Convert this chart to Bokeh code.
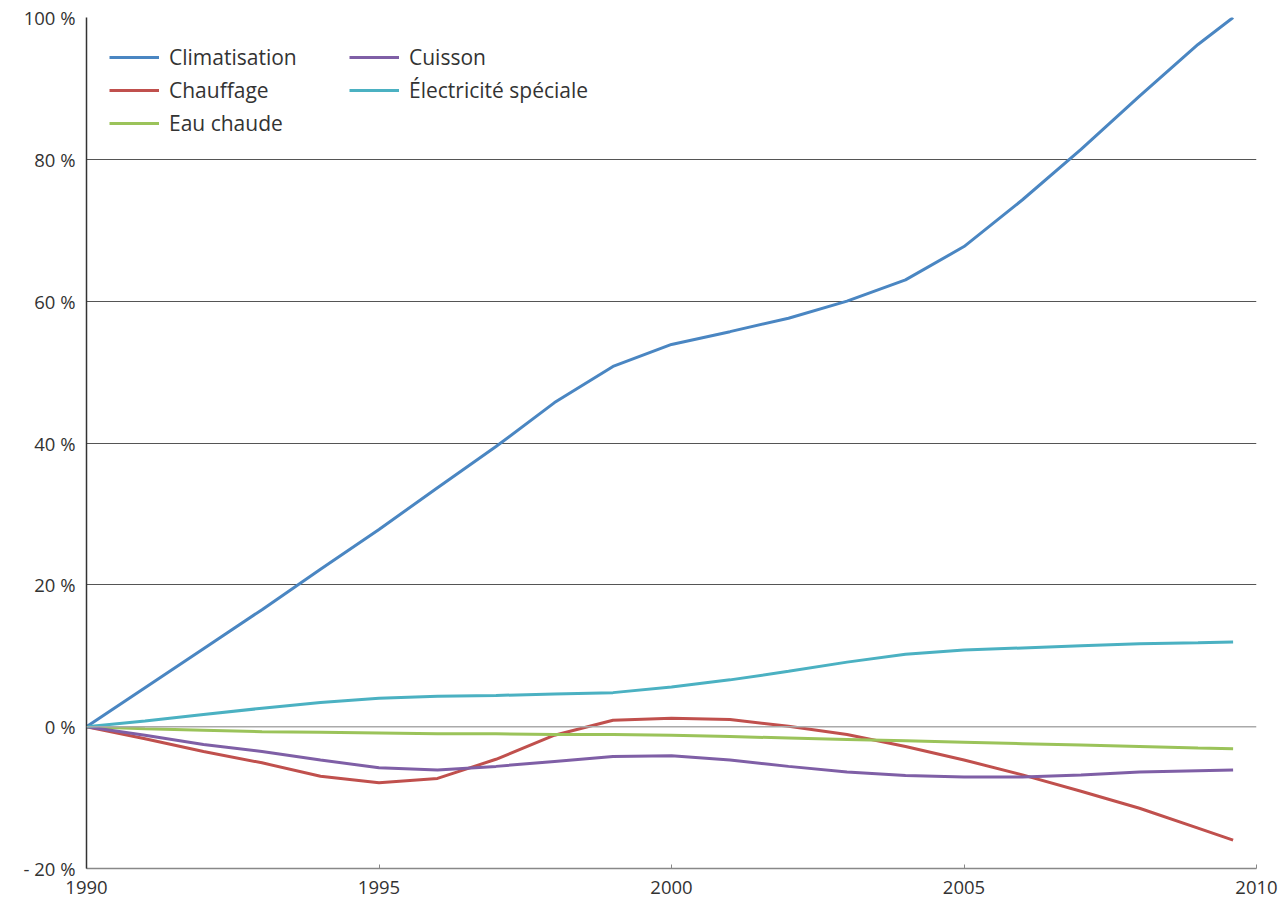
from bokeh.plotting import figure
from bokeh.models import Range1d, FixedTicker, Legend, LegendItem, Span, CustomJSTickFormatter
from bokeh.embed import file_html
from bokeh.resources import INLINE

years = [1990, 1991, 1992, 1993, 1994, 1995, 1996, 1997, 1998, 1999, 2000,
         2001, 2002, 2003, 2004, 2005, 2006, 2007, 2008, 2009, 2009.6]

climatisation = [0, 5.5, 11.0, 16.5, 22.2, 27.8, 33.7, 39.5, 45.7, 50.8, 53.9,
                 55.7, 57.6, 60.0, 63.0, 67.7, 74.3, 81.4, 88.9, 96.2, 100.0]
chauffage = [0, -1.7, -3.5, -5.1, -7.0, -7.9, -7.3, -4.6, -1.2, 0.9, 1.2,
             1.0, 0.05, -1.1, -2.8, -4.7, -6.8, -9.1, -11.5, -14.3, -16.0]
eau_chaude = [0, -0.3, -0.5, -0.7, -0.8, -0.9, -1.0, -1.0, -1.1, -1.1, -1.2,
              -1.4, -1.6, -1.8, -2.0, -2.2, -2.4, -2.6, -2.8, -3.0, -3.1]
cuisson = [0, -1.2, -2.5, -3.5, -4.7, -5.8, -6.1, -5.6, -4.9, -4.2, -4.1,
           -4.7, -5.6, -6.4, -6.9, -7.1, -7.1, -6.8, -6.4, -6.2, -6.1]
electricite = [0, 0.8, 1.7, 2.6, 3.4, 4.0, 4.3, 4.4, 4.6, 4.8, 5.6,
               6.6, 7.8, 9.1, 10.2, 10.8, 11.1, 11.4, 11.7, 11.85, 11.95]

series_names = ["Climatisation", "Chauffage", "Eau chaude", "Cuisson", "Électricité spéciale"]
series_values = [climatisation, chauffage, eau_chaude, cuisson, electricite]
series_colors = ["#4a86c2", "#c0504d", "#9bc35a", "#7f5fa6", "#4bb1c2"]

x_ticks = [1990, 1995, 2000, 2005, 2010]
y_ticks = [-20, 0, 20, 40, 60, 80, 100]
y_labels = {"-20": "- 20 %", "0": "0 %", "20": "20 %", "40": "40 %", "60": "60 %", "80": "80 %", "100": "100 %"}

FONT = "Open Sans"

p = figure(width=1280, height=906, output_backend="svg", toolbar_location=None,
           x_range=Range1d(1990, 2010), y_range=Range1d(-20, 100),
           min_border_left=86, min_border_right=24, min_border_top=17, min_border_bottom=38)
p.outline_line_color = None
p.background_fill_color = "white"

# axes
p.xaxis.ticker = FixedTicker(ticks=x_ticks)
p.yaxis.ticker = FixedTicker(ticks=y_ticks)
p.yaxis.formatter = CustomJSTickFormatter(args=dict(lab=y_labels), code="return lab[String(Math.round(tick))];")
for ax in (p.xaxis[0], p.yaxis[0]):
    ax.major_label_text_font = FONT
    ax.major_label_text_font_size = "18.5px"
    ax.major_label_text_color = "#333333"
    ax.minor_tick_line_color = None
p.yaxis.axis_line_color = "#333333"
p.yaxis.axis_line_width = 1.5
p.yaxis.major_tick_line_color = None
p.yaxis.major_label_standoff = 5
p.xaxis.axis_line_color = "#888888"
p.xaxis.axis_line_width = 1.5
p.xaxis.major_tick_line_color = "#888888"
p.xaxis.major_tick_in = 4
p.xaxis.major_tick_out = 0
p.xaxis.major_label_standoff = 12

p.xgrid.grid_line_color = None
p.ygrid.ticker = FixedTicker(ticks=[20, 40, 60, 80, 100])
p.ygrid.grid_line_color = "#555555"
p.ygrid.grid_line_width = 1

p.add_layout(Span(location=0, dimension="width", line_color="#aaaaaa", line_width=1.5))

renderers = []
for name, vals, col in zip(series_names, series_values, series_colors):
    r = p.line(years, vals, line_color=col, line_width=3)
    renderers.append(r)

def make_legend(items, loc):
    lg = Legend(items=items, location=loc, orientation="vertical",
                padding=0, margin=0, spacing=5,
                glyph_width=50, glyph_height=20, label_height=20, label_standoff=10,
                label_text_font=FONT, label_text_font_size="21px", label_text_color="#333333",
                border_line_color=None, background_fill_alpha=0)
    return lg

leg1 = make_legend([LegendItem(label=series_names[i], renderers=[renderers[i]]) for i in range(3)], (23, 731))
leg2 = make_legend([LegendItem(label=series_names[i], renderers=[renderers[i]]) for i in range(3, 5)], (263, 764))
p.add_layout(leg1, "center")
p.add_layout(leg2, "center")

open("out.html", "w").write(file_html(p, INLINE))
